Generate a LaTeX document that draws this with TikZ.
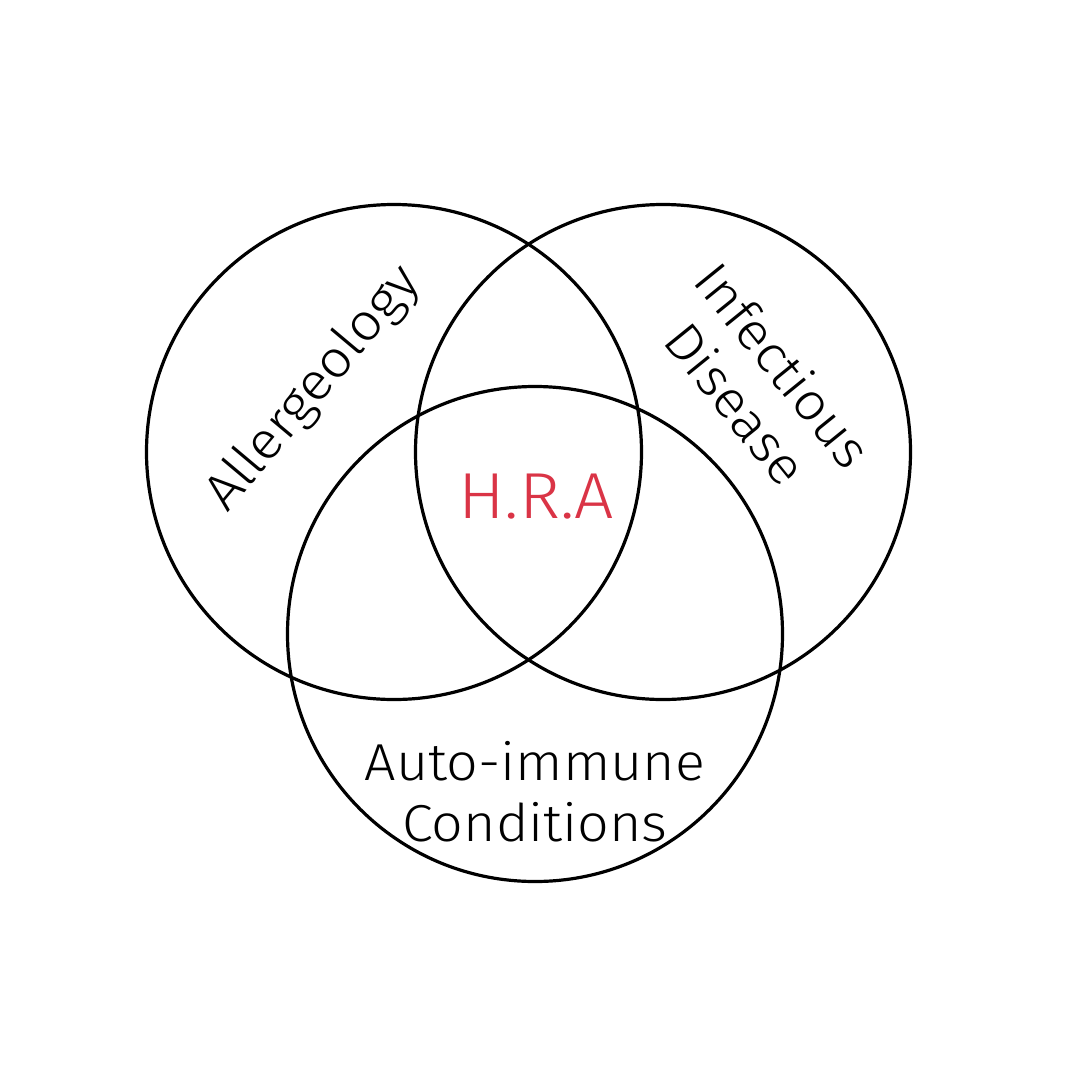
\documentclass[tikz,border=0pt]{standalone}
\usepackage{fontspec}
\setmainfont{Fira Sans Light}[FakeStretch=1.07]
\definecolor{hrared}{HTML}{DA3446}
\begin{document}
\begin{tikzpicture}[x=1pt,y=-1pt,
  ring/.style={draw=black,line width=3.2pt,circle,minimum size=495pt,inner sep=0pt},
  lbl/.style={font=\fontsize{52}{61}\selectfont,align=center,inner sep=0pt}]
\useasboundingbox[fill=white] (0,0) rectangle (1080,1080);
\node[ring] (allergy) at (394,452) {};
\node[ring] (infect) at (663,452) {};
\node[ring] (auto) at (535,634) {};
\node[lbl,rotate=50] (tallergy) at (314,389) {Allergeology};
\node[lbl,rotate=-51] (tinfect) at (760,384) {Infectious\\Disease};
\node[lbl] (tauto) at (535,792) {Auto-immune\\Conditions};
\node[lbl,font=\fontsize{65}{70}\selectfont,text=hrared] (hra) at (536,497) {H.R.A};
\end{tikzpicture}
\end{document}
